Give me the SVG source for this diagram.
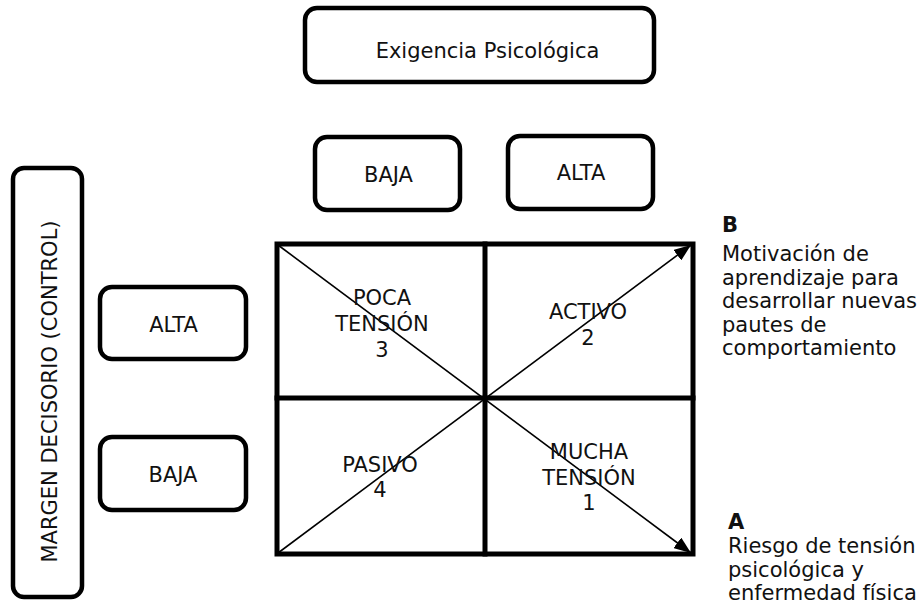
<svg xmlns="http://www.w3.org/2000/svg" width="920" height="612" viewBox="0 0 920 612">
<style>
.box{fill:#fff;stroke:#000;stroke-width:4.5}
.t{font-family:"DejaVu Sans",Verdana,sans-serif;font-size:21px;fill:#111}
.c{text-anchor:middle}
.b{font-weight:bold}
.grid{stroke:#000;stroke-width:5;fill:none;stroke-linecap:square}
.diag{stroke:#000;stroke-width:1.6;fill:none}
</style>
<defs>
<marker id="arr" viewBox="0 0 17 13" refX="17" refY="6.5" markerWidth="17" markerHeight="13" markerUnits="userSpaceOnUse" orient="auto">
<path d="M0,0 L17,6.5 L0,13 Z" fill="#000"/>
</marker>
</defs>
<rect width="920" height="612" fill="#fff"/>
<g id="title">
<rect class="box" x="305" y="8" width="349" height="74" rx="12"/>
<text class="t c" x="487.5" y="58">Exigencia Psicológica</text>
</g>
<g id="exig-baja">
<rect class="box" x="315" y="137" width="145" height="73" rx="12"/>
<text class="t c" x="388.5" y="182">BAJA</text>
</g>
<g id="exig-alta">
<rect class="box" x="508" y="136" width="145" height="73" rx="12"/>
<text class="t c" x="581" y="180">ALTA</text>
</g>
<g id="margen">
<rect class="box" x="13" y="168" width="69" height="429" rx="11"/>
<text class="t c" transform="translate(57,391.5) rotate(-90)" x="0" y="0">MARGEN DECISORIO (CONTROL)</text>
</g>
<g id="control-alta">
<rect class="box" x="100" y="287" width="146" height="72" rx="12"/>
<text class="t c" x="173.5" y="332">ALTA</text>
</g>
<g id="control-baja">
<rect class="box" x="100" y="437" width="146" height="73" rx="12"/>
<text class="t c" x="173" y="482">BAJA</text>
</g>
<g id="grid">
<rect class="grid" x="277" y="244" width="416" height="310"/>
<line class="grid" x1="485" y1="244" x2="485" y2="554"/>
<line class="grid" x1="277" y1="398" x2="693" y2="398"/>
</g>
<g id="connectors">
<line class="diag" x1="278" y1="245" x2="691" y2="553" marker-end="url(#arr)"/>
<line class="diag" x1="278" y1="553" x2="691" y2="245" marker-end="url(#arr)"/>
</g>
<g id="poca-tension">
<text class="t c" x="382" y="305">POCA</text>
<text class="t c" x="382" y="331">TENSIÓN</text>
<text class="t c" x="382" y="357">3</text>
</g>
<g id="activo">
<text class="t c" x="588" y="319">ACTIVO</text>
<text class="t c" x="588" y="345">2</text>
</g>
<g id="pasivo">
<text class="t c" x="380" y="472">PASIVO</text>
<text class="t c" x="380" y="497">4</text>
</g>
<g id="mucha-tension">
<text class="t c" x="589" y="459">MUCHA</text>
<text class="t c" x="589" y="485">TENSIÓN</text>
<text class="t c" x="589" y="510">1</text>
</g>
<g id="label-b">
<text class="t b" x="722" y="232">B</text>
<text class="t" x="722" y="261">Motivación de</text>
<text class="t" x="722" y="284.5">aprendizaje para</text>
<text class="t" x="722" y="308">desarrollar nuevas</text>
<text class="t" x="722" y="331.5">pautes de</text>
<text class="t" x="722" y="355">comportamiento</text>
</g>
<g id="label-a">
<text class="t b" x="728" y="529">A</text>
<text class="t" x="728" y="553">Riesgo de tensión</text>
<text class="t" x="728" y="577">psicológica y</text>
<text class="t" x="728" y="600">enfermedad física</text>
</g>
</svg>
